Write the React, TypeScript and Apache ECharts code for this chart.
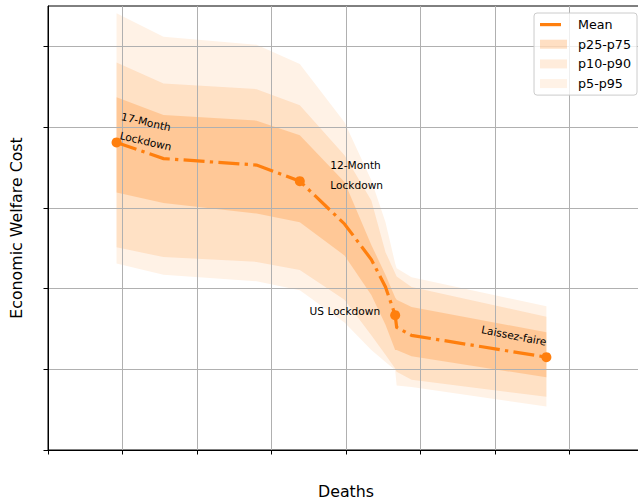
import React, { useEffect, useRef } from "react";
import * as echarts from "echarts";

// Deaths (x) at each scenario, and welfare cost statistics (y)
const deathsX = [0.92, 1.55, 2.8, 3.38, 3.98, 4.34, 4.53, 4.66, 4.68, 4.88, 6.69];
const meanCost = [3.81, 3.61, 3.53, 3.33, 2.8, 2.36, 2.02, 1.67, 1.52, 1.42, 1.15];
const p95 = [5.41, 5.12, 5.02, 4.78, 4.06, 3.34, 2.82, 2.31, 2.25, 2.14, 1.78];
const p90 = [4.8, 4.54, 4.47, 4.27, 3.65, 3.09, 2.45, 2.19, 2.15, 2.02, 1.65];
const p75 = [4.37, 4.15, 4.08, 3.9, 3.32, 2.54, 2.17, 1.89, 1.86, 1.77, 1.46];
const p25 = [3.19, 3.06, 2.93, 2.82, 2.41, 1.92, 1.55, 1.24, 1.24, 1.16, 0.9];
const p10 = [2.51, 2.39, 2.33, 2.23, 1.86, 1.42, 1.18, 1.01, 0.97, 0.87, 0.66];
const p5 = [2.31, 2.17, 2.09, 1.98, 1.58, 1.24, 1.09, 0.99, 0.8, 0.78, 0.54];

// Named scenarios (index into the arrays above) and their annotation lines
const annotationIdx = [0, 3, 7, 10];
const annotationLines = [["17-Month", "Lockdown"], ["12-Month", "Lockdown"], ["US Lockdown"], ["Laissez-faire"]];

const xTicks = [0, 1, 2, 3, 4, 5, 6, 7, 8];
const yTicks = [0, 1, 2, 3, 4, 5];

const ORANGE = "#ff7f0e";
const FONT = "DejaVu Sans";

function bandSeries(name: string, lo: number[], hi: number[], alpha: number) {
  return {
    type: "custom",
    name,
    z: 1,
    silent: true,
    data: deathsX.map((x, i) => [x, lo[i], hi[i]]),
    encode: { x: 0, y: [1, 2] },
    itemStyle: { color: `rgba(255,127,14,${alpha})` },
    renderItem: (params: any, api: any) => {
      if (params.dataIndex !== 0) return null;
      const upper = deathsX.map((x, i) => api.coord([x, hi[i]]));
      const lower = deathsX.map((x, i) => api.coord([x, lo[i]])).reverse();
      return {
        type: "polygon",
        shape: { points: upper.concat(lower) },
        style: { fill: `rgba(255,127,14,${alpha})` },
      };
    },
  };
}

// label placement per annotation: one style per text line
const labelStyles: any[][] = [
  [
    { align: "left", verticalAlign: "bottom", offset: [-1.1, -21.3], rotate: -13 },
    { align: "left", verticalAlign: "bottom", offset: [1.8, -2.5], rotate: -13 },
  ],
  [{ align: "left", verticalAlign: "middle", offset: [30.5, -6], rotate: 0, lineHeight: 20 }],
  [{ align: "right", verticalAlign: "middle", offset: [-15, -4], rotate: 0 }],
  [{ align: "right", verticalAlign: "bottom", offset: [-2.9, -9.6], rotate: -11 }],
];

function buildMarkerData() {
  const out: any[] = [];
  annotationIdx.forEach((idx, k) => {
    const styles = labelStyles[k];
    const texts = styles.length === 1 ? [annotationLines[k].join("\n")] : annotationLines[k];
    texts.forEach((t, j) => {
      out.push({
        value: [deathsX[idx], meanCost[idx]],
        symbolSize: j === 0 ? 10 : 0,
        label: {
          show: true,
          position: "inside",
          formatter: t,
          fontFamily: FONT,
          fontSize: 10.6,
          color: "#000",
          ...styles[j],
        },
      });
    });
  });
  return out;
}

export default function App() {
  const ref = useRef<HTMLDivElement>(null);
  useEffect(() => {
    if (!ref.current) return;
    const chart = echarts.init(ref.current, null, { renderer: "svg" });
    const option: any = {
      animation: false,
      backgroundColor: "#ffffff",
      textStyle: { fontFamily: FONT },
      grid: {
        left: 48,
        top: 6,
        width: 596,
        height: 444,
        containLabel: false,
        outerBoundsMode: "none",
        show: true,
        borderColor: "#000000",
        borderWidth: 1,
        backgroundColor: "transparent",
      },
      legend: {
        orient: "vertical",
        right: 1,
        top: 13,
        padding: [4, 6, 4, 6],
        backgroundColor: "rgba(255,255,255,0.8)",
        borderColor: "#cccccc",
        borderWidth: 1,
        borderRadius: 3,
        itemWidth: 27,
        itemHeight: 9,
        itemGap: 4.7,
        selectedMode: false,
        textStyle: { fontFamily: FONT, fontSize: 12.7, color: "#000", lineHeight: 15, padding: [0, 0, 0, 6] },
        data: [
          { name: "Mean", icon: "path://M0,0M27,9M0,3H21V6.2H0Z", itemStyle: { color: ORANGE } },
          { name: "p25-p75", icon: "rect", itemStyle: { color: "rgba(255,127,14,0.25)" } },
          { name: "p10-p90", icon: "rect", itemStyle: { color: "rgba(255,127,14,0.15)" } },
          { name: "p5-p95", icon: "rect", itemStyle: { color: "rgba(255,127,14,0.1)" } },
        ],
      },
      xAxis: {
        type: "value",
        min: xTicks[0],
        max: xTicks[xTicks.length - 1],
        interval: 1,
        z: 3,
        name: "Deaths",
        nameLocation: "middle",
        nameGap: 33,
        nameTextStyle: { fontFamily: FONT, fontSize: 15.8, color: "#000" },
        axisLine: { show: true, lineStyle: { color: "#000", width: 1 } },
        axisTick: { show: true, inside: false, length: 4.5, lineStyle: { color: "#000", width: 1 } },
        axisLabel: { show: false },
        splitLine: { show: true, lineStyle: { color: "#b0b0b0", width: 1 } },
      },
      yAxis: {
        type: "value",
        min: yTicks[0],
        max: 5.5,
        interval: 1,
        z: 3,
        name: "Economic Welfare Cost",
        nameLocation: "middle",
        nameGap: 24,
        nameTextStyle: { fontFamily: FONT, fontSize: 15.8, color: "#000" },
        axisLine: { show: true, lineStyle: { color: "#000", width: 1 } },
        axisTick: { show: true, inside: false, length: 4.5, customValues: yTicks, lineStyle: { color: "#000", width: 1 } },
        axisLabel: { show: false },
        splitLine: { show: true, lineStyle: { color: "#b0b0b0", width: 1 } },
      },
      series: [
        bandSeries("p5-p95", p5, p95, 0.1),
        bandSeries("p10-p90", p10, p90, 0.15),
        bandSeries("p25-p75", p25, p75, 0.25),
        {
          type: "line",
          name: "Mean",
          z: 5,
          silent: true,
          symbol: "none",
          data: deathsX.map((x, i) => [x, meanCost[i]]),
          itemStyle: { color: ORANGE },
          lineStyle: { color: ORANGE, width: 3.2, type: [21, 5.3, 3.3, 5.3], cap: "butt", join: "miter" },
        },
        {
          type: "scatter",
          name: "markers",
          z: 6,
          silent: true,
          symbol: "circle",
          itemStyle: { color: ORANGE, opacity: 1 },
          data: buildMarkerData(),
        },
      ],
    };
    chart.setOption(option);
    return () => chart.dispose();
  }, []);
  return <div ref={ref} style={{ position: "fixed", left: 0, top: 0, width: 638, height: 500 }} />;
}
